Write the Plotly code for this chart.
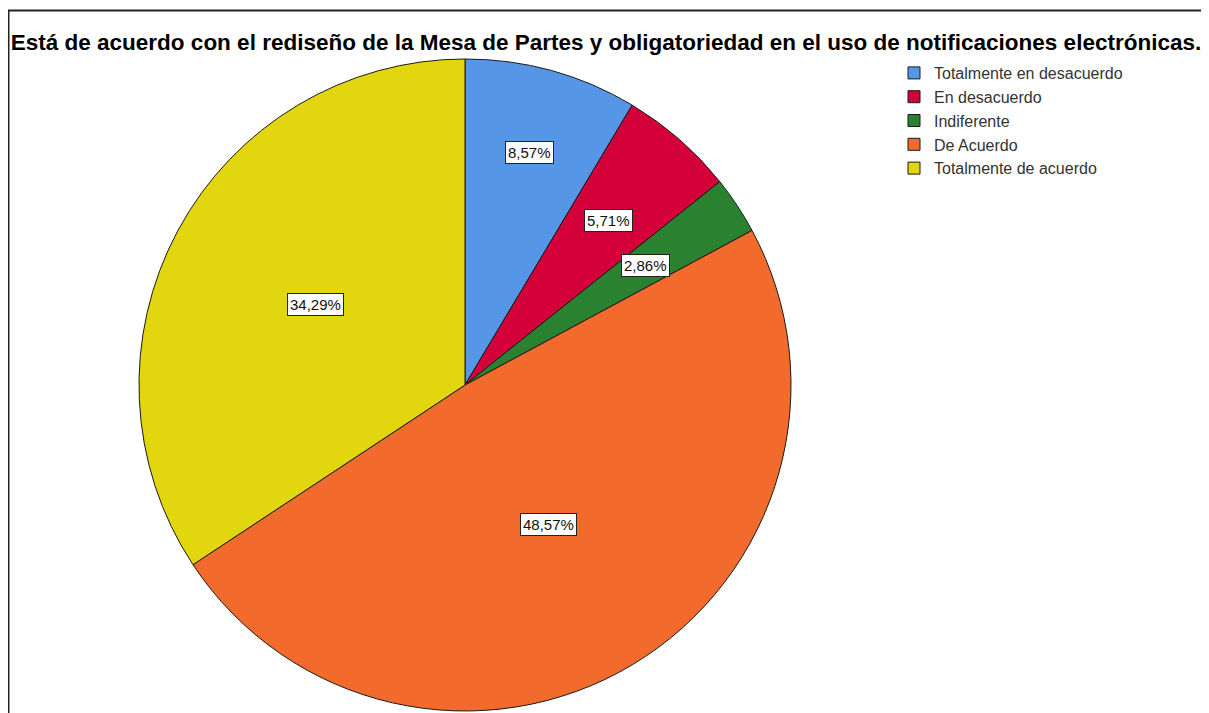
import math
import plotly.graph_objects as go

# Data
categories = ["Totalmente en desacuerdo", "En desacuerdo", "Indiferente", "De Acuerdo", "Totalmente de acuerdo"]
percentages = [8.57, 5.71, 2.86, 48.57, 34.29]
colors = ["#5696E6", "#D4003A", "#2A8230", "#F26A2C", "#E2D70E"]

# label distance from the center, as a fraction of the radius
label_r = [0.74, 0.67, 0.665, 0.50, 0.52]

# the page puts the figure 8px in from the top-left corner
W, H = 1201, 705
cx, cy, R = 457, 377, 326

fig = go.Figure()
fig.add_trace(go.Pie(
    labels=categories,
    values=percentages,
    sort=False,
    direction="clockwise",
    rotation=0,
    marker=dict(colors=colors, line=dict(color="#1a1a1a", width=1)),
    textinfo="none",
    hoverinfo="label+percent",
    domain=dict(x=[(cx - R) / W, (cx + R) / W], y=[1 - (cy + R) / H, 1 - (cy - R) / H]),
))

# Boxed percentage labels at the middle of each slice
total = sum(percentages)
cum = 0
for v, rf in zip(percentages, label_r):
    mid = (cum + v / 2) / total * 2 * math.pi
    cum += v
    px = cx + rf * R * math.sin(mid)
    py = cy - rf * R * math.cos(mid)
    fig.add_annotation(
        x=px / W, y=1 - py / H, xref="paper", yref="paper",
        xanchor="center", yanchor="middle",
        text=f"{v:.2f}".replace(".", ",") + "%",
        showarrow=False,
        font=dict(family="Liberation Sans, Arial", size=15, color="#111"),
        bgcolor="white", bordercolor="#222", borderwidth=1, borderpad=2,
    )

# Frame around the chart
fig.add_shape(type="rect", xref="paper", yref="paper",
              x0=0.5 / W, x1=1.05, y0=-0.05, y1=1 - 2.5 / H,
              line=dict(color="#222", width=2), layer="below")

fig.update_layout(
    width=W, height=H,
    margin=dict(l=0, r=0, t=0, b=0),
    paper_bgcolor="white",
    title=dict(
        text="<b>Está de acuerdo con el rediseño de la Mesa de Partes y obligatoriedad en el uso de notificaciones electrónicas.</b>",
        x=598 / W, xanchor="center", y=1 - 34 / H, yanchor="middle",
        font=dict(family="Liberation Sans, Arial", size=22.5, color="black"),
    ),
    legend=dict(
        x=886 / W, y=1 - 48 / H, xanchor="left", yanchor="top",
        font=dict(family="Liberation Sans, Arial", size=16, color="#333"),
        bgcolor="rgba(0,0,0,0)", itemwidth=30,
    ),
)

fig.write_html("out.html")
